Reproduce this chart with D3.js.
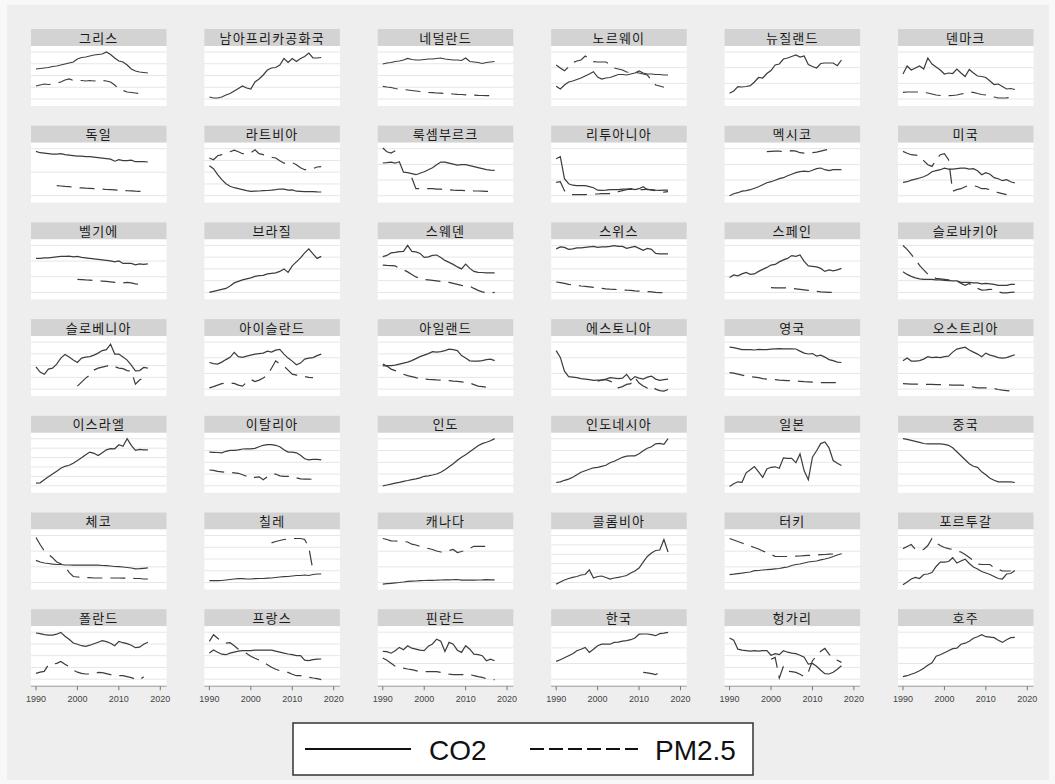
<!DOCTYPE html>
<html><head><meta charset="utf-8">
<script src="https://cdn.jsdelivr.net/npm/d3@7"></script>
<style>body{margin:0;background:#f8f8f8}svg{display:block}</style>
</head><body><svg id="c" width="1055" height="784"></svg>
<script>
const N = null;
const countries = ["그리스","남아프리카공화국","네덜란드","노르웨이","뉴질랜드","덴마크",
"독일","라트비아","룩셈부르크","리투아니아","멕시코","미국",
"벨기에","브라질","스웨덴","스위스","스페인","슬로바키아",
"슬로베니아","아이슬란드","아일랜드","에스토니아","영국","오스트리아",
"이스라엘","이탈리아","인도","인도네시아","일본","중국",
"체코","칠레","캐나다","콜롬비아","터키","포르투갈",
"폴란드","프랑스","핀란드","한국","헝가리","호주"];
const years = [1990,1991,1992,1993,1994,1995,1996,1997,1998,1999,2000,2001,2002,2003,2004,2005,2006,2007,2008,2009,2010,2011,2012,2013,2014,2015,2016,2017];
const xTicks = [1990,2000,2010,2020];
const gridCounts = [5,5,5,4,4,4, 3,5,4,4,4,4, 4,5,5,5,4,5, 5,4,5,4,4,4, 6,5,5,5,5,5, 4,5,4,6,4,5, 5,5,4,4,5,4];
const co2 = [
[37,37.5,38,38.5,39.5,40,41,42,43,44,47,48.5,49,50,51,51.5,52,54,51.5,48,45,44,41,37,35,34,33.5,33],
[9,8,8,9,11,12.5,15,17.5,20,18,17,24,27,31,36,38,38.5,41,47.5,43.5,47.5,44.5,47.5,49.5,53,48,48,48.5],
[42,43,43.5,44.5,45,46,47.5,46.5,46,46,46.5,47,47,47.5,48,47,46.5,46,46,45.5,48,44.5,44,43.5,42.5,43.5,44,44.5],
[19.7,17,21,24,25,26.5,28,30,32,34.3,29,27,28,28.5,30,31.5,31.5,31,32,33,35,33,32,32,31.5,31.5,31,31],
[12.7,15,19.3,19,19.5,20.3,24,28.5,28,32.5,35.5,41,42,47,48,49.5,51,49,50,41.5,39.5,38,42.5,43,43,43,40.3,46],
[32,40,36,38,40,37,48,42,39,36,32,33,32.5,37,33,29.5,36.5,33,30,29.5,28.5,25,21.5,22,19.5,17,17.5,16.5],
[51.3,50,49.5,49,48.5,48.5,49,48,47.5,47,46.5,46.5,46,46,45.5,45,44.5,44,43.5,41.5,43,42,42,42.5,41,41,41,40.7],
[37,34,28,23,19,16.5,15,14,13,12,11.3,11.5,11.7,12,12.2,12.5,13,13.7,13.5,12.5,12.8,11.5,11.3,11,11,11,10.8,10.7],
[39.7,40,40.5,39.5,41,30.5,30,29,28,29.5,31,33,35,38,40.7,40.5,39.5,38.5,37.5,38,38,37,36,35,34,33,32.5,32.3],
[44,46,24,19,17.5,17,17,17,16,15,12.5,12.3,12.5,13,13,13,13.5,13.7,14,13,14,16,13,13,12.5,12.3,12.5,12.5],
[7,9,10,11.5,12,13,14.5,16,18,20,21,22.5,24,25,27,28.5,30,31,31.5,31,32.5,34,34.7,33,32,33,33,33],
[20.3,21,22.5,23.5,24.7,26,28,31,32,33,34.5,33.5,33.5,34,34.5,34.5,33.5,34,32,28,30,28.5,25,24,22,23,21,19.7],
[41,41,41.5,41.5,42,42.5,43,43,43.3,42.5,43,42,41.5,41,40.5,40,39.5,39,38.5,37.5,38.5,36,36,36,34.5,35.5,35,35.5],
[7,8,9,10,11,13.5,16.5,18,19.5,20.5,21.5,23,23.7,24,25.5,26,26.5,28,30.5,27,33.5,37.5,41.5,46.5,50.5,45.5,41,43],
[42.8,44,46.5,47,47.8,48,54,48,47.5,46,42,42.5,44,44.4,42,39,37,35,32.5,30.5,35.3,31,28,27,26.9,26.5,26.5,26.5],
[50.5,52.5,52,50,50.5,51.5,51.5,52,52.5,53,52,52.5,52.5,53,53.8,53,53,51,52,53,51,49,51,50,46,45.5,45.5,45.5],
[21.8,24.5,23.5,25.5,26.9,25,25.5,28,30,32,34.3,35,37.5,39.5,41,43.8,43,44.5,38,33.5,33,32.5,31,28,29.5,28.5,29.5,31],
[27.6,25,23,21.5,20.5,20,20,20,19.5,19.5,19,18.8,18.5,18.5,17,17,17,16.5,16.5,15.5,16,15.5,15,14,14,14,15,15],
[29.3,24,21.8,27,28,32,38,41.5,39,36,33.7,38,39,39.5,41,43,45.5,46.5,52,42,42,39,36,31,25.2,25.5,28.6,28],
[33.6,32.5,32,34,36.5,38.7,43.8,39.5,38.7,40,41,42,42.5,43,45,44,46,46.8,42,38,35,31.3,33,37,38,38.5,40.5,42],
[30.3,30.5,30.5,31,32,33,34,35.5,37.5,39.5,41,42.5,44.5,44,44.5,45.5,47,46.5,45.5,40.5,38,35.3,35,35,35.5,36.5,37,35.5],
[45.5,38.7,25,19.5,19,18.4,17.5,17,16.5,15.7,16,16.2,17,18.5,18,17.5,18,21.8,16,19.5,18,17,19,20,17,15.8,16.5,17],
[48.9,48.5,47.5,46.5,46.5,46.5,46.1,46.8,46.5,46.5,47,47.3,47.5,47.3,47.3,47.3,47.1,45,43,42.1,42.5,40,41,39,36.5,35.5,34,33.6],
[35.3,38,35,35,35.5,37,39.4,38.5,39,38.5,39.4,40,44,47,48,48.9,46,44,42,39.4,43,41,40,38.5,38,38.5,40,41.4],
[9.6,10,13,16,18.8,21.5,24.5,26.5,27.5,29.5,32.3,35,38,40.7,39.5,37.3,40,43,44.1,44,48.1,46.5,54.2,47.5,42.4,43.5,43,43],
[40.7,40.5,40.3,40,41.5,42.5,42.5,43,43.8,44,44,44.5,46,47.5,48.1,48.1,47.5,46,43,40.7,40.7,40,37.5,34,32.9,33.5,33.5,32.9],
[6.9,7.8,8.7,9.6,10.5,11.5,12.3,13.2,14,15,16.5,17,17.8,18.8,20.5,23,26,29,32.5,35.5,38,41,44,47,49.2,50.5,52,54.2],
[10.3,11,12.5,13.7,15.5,18,20.5,22,23.5,25,25.5,26.5,27.5,30,31.5,33.5,35.5,36.7,37,37,39,42,44.5,46,49,49.5,48.5,54.2],
[6.3,9,11,10.5,20,23,26.2,21,15.4,23.8,25.5,26,24.5,35,34.5,34.5,30,38.9,22,13,35.6,42,49.2,50.8,45,32.3,29.5,27.2],
[54.2,53.5,52.5,51.5,50.5,49.3,49,49,49,49,48.5,47.5,45,41,37,33,29,26.5,25.5,21,18,14.5,12.5,11,11,11,11,10.3],
[29.1,27.5,26.5,26,25.3,25,25,24.5,24.5,24.3,24.3,24.3,24.3,24.3,24.3,24.3,24,23.8,23.5,23,22.8,22.5,22,21.5,20.6,20.8,21.2,21.6],
[8.8,8.8,8.8,9,9.5,10,10.5,10.8,10.8,10.5,10.5,10.8,11,11,11.3,11.5,12,12.5,12.8,13,13.5,14,14,14.5,14,15,15.5,15.5],
[5.4,5.8,6.2,6.6,7,7.5,8.1,8.3,8.5,8.8,9,9.1,9.2,9.3,9.5,9.6,9.7,9.8,10,9.3,9.3,9.3,9.3,9.5,9.6,9.8,9.6,9.6],
[5.4,7.5,9.5,11,12.2,13,14.5,15,19.6,11.5,13,13.5,12,10.5,11.5,12.2,13,14,16.5,18.5,21.5,27.4,33,36.5,39,39.5,50,37.5],
[14.9,15.3,15.8,16.3,17,17.5,18.9,19,19.5,19.8,20.2,20.6,21,21.8,22.5,24,25,25.5,26.5,27.5,28,28.5,29.7,30.5,31.5,33,34.5,35.8],
[4.7,7.5,10.5,12,11,15,15.5,17,23,27.4,27.4,28,31.8,26.5,28.5,30.4,26,22.5,20.5,18,16.5,15,13,11,10.5,15.5,16,18.9],
[53.2,52.5,51.5,51,51,52,53.8,50,47,43.2,42,40.5,39.8,41,42.5,44,45.5,44.5,43,40.5,44.8,43.5,42.5,41,38.5,39,42,44],
[33.2,36.2,34,32,31.5,33,34,35,35.5,35.5,35.5,36,36,36,36.2,36,35,34,33,32.2,31.5,30.5,30.5,26,25.5,26.5,27,27.2],
[34.8,34.5,33,35.5,38.8,36.5,40.5,38,37,36,35.5,40,42.2,47,45,34.8,43.8,42,36,33.8,40.5,37,32,31.5,30.5,25.5,27,25.5],
[24.8,26.5,28.5,30.5,32.5,35.5,37,38.8,33.8,37,40.5,42,42,42,43.8,44,45,45.5,46.5,48.2,52,52.2,52.2,51.5,50.5,52.5,53,53.8],
[48.2,46,37,36,35.5,35,35.5,35,35.5,35.5,31,32.5,31.5,35.5,34,33,32.5,31,29,22,22.8,20,16,12.5,12.2,14,17,20.5],
[9.5,10.5,12,13.5,15.5,18,21,23.5,30,31.5,33.5,35.5,37.5,38,42,43,45,48,49.5,51.5,49.5,49,48.5,46,43.8,46.5,48.5,48.8]
];
const pm25 = [
[20,21,22,21.5,22,23,24,26,27,25.5,25.5,25.5,25,25.5,25,25.5,25.5,25,24,21,17,15.5,14,13.5,13,12.5,12,N],
null,
[19.7,19,18.5,17.5,17,16.5,16,15.5,15,14.5,14,13.5,13.3,13,12.8,12.5,12.2,12,11.7,11.5,11.2,11,10.8,10.6,10.5,10.4,10.3,10.3],
[41,38,35.3,39,43.5,45,46,50,47,44.3,44,44,44,41.5,38,37,36,34,33.5,33.5,33,32,31,26,21,20,18.7,N],
null,
[13.7,14,14,14,14,13.5,13,12,11,10.5,10.3,10.3,10.5,11,12,12.7,13.5,13.7,12.5,11.5,11,10,9,8,8,8.2,8.5,8.5],
[N,N,N,N,N,17,16.7,16.3,16,15.5,15,14.8,14.5,14.3,14,13.7,13.5,13.2,13,12.8,12.5,12.3,12,11.8,11.5,11.3,11.2,11],
[44.7,43,47,48,49.5,51,52.5,51,49,49.5,50,53,49,48,47,45.5,44.7,42,39.5,40,40,38,35,33,33,34,35.7,36],
[54.7,51,49.7,52,N,N,N,25,14,14,14,14,14,13.5,13.5,13,13,12.5,12.3,12.3,12,12,11.8,11.7,11.5,11.3,11.3,11.3],
[20.3,21,12,8.5,8,8,8,8,8.5,8.7,8.7,9,9,9,10,11,12,13,13.5,13,13,13,13.5,12.5,12,11.5,10.5,11],
[N,N,N,N,N,N,N,N,N,51,51.3,51.5,51.5,51,51,52,51.5,50,49.5,50,50,50.5,51.5,52.5,53.5,53.7,N,N],
[51.3,49.5,48,47.5,47,42,38,36.3,43,48,49,43,11.5,13,14,16,17.5,17,16,14,14,13,11.5,10,9,8,N,N],
[N,N,N,N,N,N,N,N,N,N,20,19.8,19.5,19.3,19,18.5,18.3,18,17.5,17,16.7,16.5,17,16.5,15.5,15,15,N],
null,
[34.3,34,33.8,33.5,31,29.6,27.5,25,22.5,21,20,19.5,19,18.5,18,17.7,17,16,15,14,13.5,13.3,11,9,7.5,6.6,6.5,7],
[17.4,16.8,16,15,14.5,14,13.4,13,12.5,12,11.5,11,10.5,10.2,10,9.8,9.5,9.2,9,8.5,8.3,8,7.8,7.5,7,6.8,6.6,6.6],
[N,N,N,N,N,N,N,N,N,N,11.7,11.6,11.5,11.5,11.5,11,10.5,10,9.5,9,8.5,8,7.5,7.3,7,7,7,N],
[53.9,50,45,40,34,29.5,25.2,22.5,21,20.5,20,19.5,19,18.4,16,14,16,13,11,9.3,9.5,10,9.8,7.5,6.6,6.6,7,7.3],
[N,N,N,N,N,N,N,N,N,N,10,14,18,21,26,28,29,30,31.3,29.5,28,27.5,25.5,25,12,16,18.4,N],
[8.3,9.5,11,12.5,13,12.7,12.7,11,10,14,16.7,14.5,16,18,20.8,27.9,35.3,32,30,26,22,21,20.5,19.5,18.8,18.4,N,N],
[32,30,27,25.5,23.5,21.8,20.5,19.5,18.4,17.5,17,16.7,16.5,16.2,16,15.8,15.5,15,14.8,14.3,13.5,13,11.5,10,9.5,9,8.3,N],
[N,N,N,N,N,N,N,N,N,N,15,16,16.5,15,13,8.3,9.5,11.7,12.5,18.4,13,10,8,10,7,5.5,5,6.6],
[23.5,23,22,21,20,19.5,19,18.5,17.5,17,16.7,16.5,16,15.8,15.5,15.3,15,14.8,14.5,14.3,14,13.7,13.5,13.4,13.4,13.4,13.4,N],
[12.4,12.2,12,12,12,11.8,11.7,11.7,11.5,11.5,11.3,11.3,11,11,11,10.5,10,9,8.3,8.3,8.3,8.3,7.5,6.6,6,5.5,5,4.9],
null,
[22.8,22.5,21.5,21,20.4,20.3,20,19.5,18,16.5,14.4,15.5,16,13,16,18.5,18.8,17,16.5,16.5,16.5,15,14,13.7,13.7,13.5,N,N],
null,
null,
null,
null,
[52,45,38.5,35,31.8,27.5,25.7,22.5,17.2,13,12.5,12.3,12,11.8,11.5,11.5,11.5,11.5,11.5,11.5,11.5,11.3,11.3,11.3,11,11,10.5,10.5],
[N,N,N,N,N,N,N,N,N,N,N,N,N,N,N,46.6,48,49,50,50.5,51,51,51,50,42,19,N,N],
[51,50,48.6,48.5,48.3,48,47.5,45.3,44.5,43,42,41,40,38.5,37.5,37.5,39,40,37,38,39.2,41,43.2,43.2,43.2,43.2,43.2,N],
null,
[51,49.5,48,46.5,44.9,43.5,42,40.5,38.5,37,35,33.1,33,33,33,33.1,33.3,33.5,33.8,34.1,34.3,34.5,34.8,35,35.3,35.5,35.7,35.8],
[40.9,43,45,40,39.5,40,44,51,46.6,44,42,40.9,40,38.5,37.5,35,32,29.1,25.5,25,25,25,21.5,20.3,18.5,18.5,18.5,N],
[12.8,14,14.8,21.5,22,22.8,24.8,22,19.5,16,14,12.8,12.2,12.2,12.2,13.8,13.5,12.5,11.5,10.5,10.5,10.5,9.5,8.5,7,6.5,9.5,N],
[44.8,51.5,48,45,43,43.5,40.5,37,35,32.8,30,28,26.2,24,21.5,19,17,15.5,14.5,13.8,12,10.5,10.5,10,9,8.2,7.5,6.5],
[28.2,26,23,20,19,18,17.2,16.5,15.5,14.5,14.5,14.5,14.5,14.5,13.8,13.2,12,11.5,11.5,11.5,11.5,12,10.5,9.5,8.8,7.5,6.8,6.5],
[N,N,N,N,N,N,N,N,N,N,N,N,N,N,N,N,N,N,N,N,N,13.8,13.3,12.5,11.5,14,N,N],
[N,N,N,N,N,N,N,N,N,N,27,28.8,8.2,20,15,14.5,13.8,12,9.5,14,25.5,30,35,37.8,32,28.2,26,23.8],
null
];
const legendLabels = ["CO2","PM2.5"];

const svg = d3.select("#c");
svg.append("rect").attr("x",7).attr("y",5).attr("width",1042).attr("height",775).attr("fill","#eeeeee");

const nCols = 6, colPitch = 173.4, rowPitch = 96.7, left0 = 31, top0 = 29;
const panelW = 135.5, titleH = 17, plotH = 60;
const x = d3.scaleLinear().domain([1988.8, 2021.5]).range([0, panelW]);
const y = d3.scaleLinear().domain([0, 60]).range([plotH, 0]);
const line = d3.line().defined(d => d[1] != null).x(d => x(d[0])).y(d => y(d[1]));
const nRows = Math.ceil(countries.length / nCols);

countries.forEach((name, i) => {
  const r = Math.floor(i / nCols), c = i % nCols;
  const g = svg.append("g").attr("transform", `translate(${left0 + c*colPitch},${top0 + r*rowPitch})`);
  g.append("rect").attr("width", panelW).attr("height", titleH).attr("fill", "#d3d3d3");
  g.append("text").attr("x", panelW/2).attr("y", 13.5).attr("text-anchor","middle")
    .attr("font-family","'Noto Sans CJK KR','Noto Sans',sans-serif").attr("font-size",13)
    .attr("letter-spacing","1.2px").attr("fill","#1a1a1a").text(name);
  const p = g.append("g").attr("transform", `translate(0,${titleH})`);
  p.append("rect").attr("width", panelW).attr("height", plotH).attr("fill", "#ffffff");
  const n = gridCounts[i];
  const gv = d3.range(n).map(k => 54 - k * 47 / (n - 1));
  p.selectAll("line.grid").data(gv).enter().append("line")
    .attr("x1",0).attr("x2",panelW).attr("y1",d=>y(d)).attr("y2",d=>y(d))
    .attr("stroke","#e6e6e6").attr("stroke-width",1);
  const cd = years.map((yr,k) => [yr, co2[i][k]]);
  p.append("path").attr("d", line(cd)).attr("fill","none").attr("stroke","#3c3c3c").attr("stroke-width",1.2);
  if (pm25[i]) {
    const pd = years.map((yr,k) => [yr, pm25[i][k]]);
    p.append("path").attr("d", line(pd)).attr("fill","none").attr("stroke","#3c3c3c")
      .attr("stroke-width",1.2).attr("stroke-dasharray","15,8");
  }
  if (r === nRows - 1) {
    const ax = p.append("g").attr("transform", `translate(0,${plotH})`);
    ax.append("line").attr("x1",0).attr("x2",panelW).attr("stroke","#9a9a9a").attr("stroke-width",1);
    ax.selectAll("line.t").data(xTicks).enter().append("line")
      .attr("x1",d=>x(d)).attr("x2",d=>x(d)).attr("y1",0).attr("y2",4).attr("stroke","#777");
    ax.selectAll("text").data(xTicks).enter().append("text")
      .attr("x",d=>x(d)).attr("y",16).attr("text-anchor","middle")
      .attr("font-family","Arial,'Liberation Sans',sans-serif").attr("font-size",9).attr("fill","#444").text(d=>d);
  }
});

// legend
const lg = svg.append("g");
lg.append("rect").attr("x",293).attr("y",723).attr("width",460).attr("height",52)
  .attr("fill","#fff").attr("stroke","#333").attr("stroke-width",1.5);
lg.append("line").attr("x1",305).attr("x2",411).attr("y1",749).attr("y2",749).attr("stroke","#111").attr("stroke-width",2);
lg.append("line").attr("x1",530).attr("x2",638).attr("y1",749).attr("y2",749).attr("stroke","#111").attr("stroke-width",2).attr("stroke-dasharray","14,5");
lg.append("text").attr("x",429).attr("y",760).attr("font-family","Arial,'Liberation Sans',sans-serif").attr("font-size",28).attr("fill","#111").text(legendLabels[0]);
lg.append("text").attr("x",655).attr("y",760).attr("font-family","Arial,'Liberation Sans',sans-serif").attr("font-size",28).attr("fill","#111").text(legendLabels[1]);
</script></body></html>
